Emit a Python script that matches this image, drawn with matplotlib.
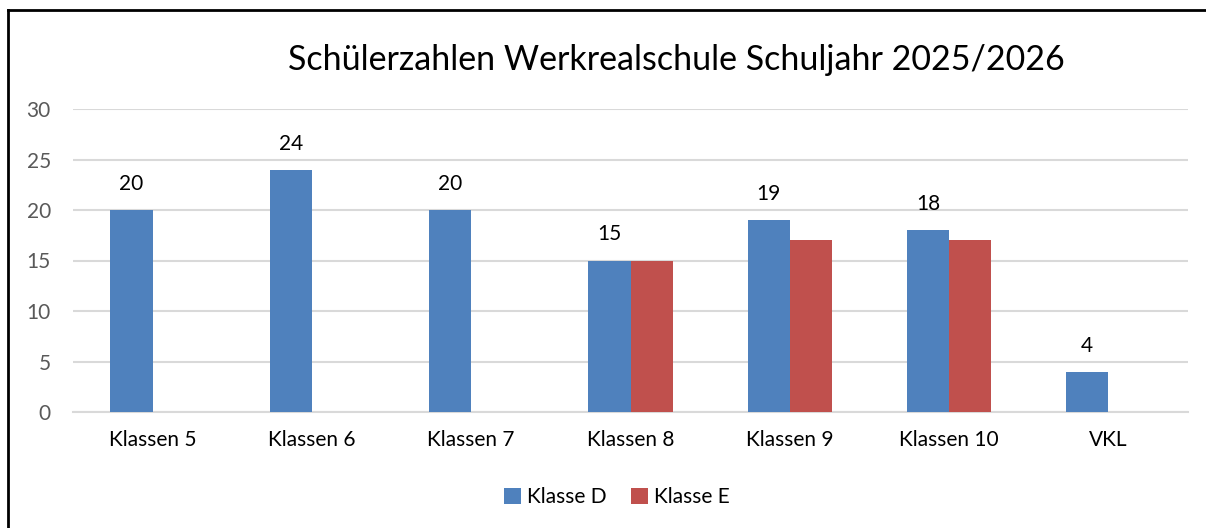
import numpy as np
import matplotlib.pyplot as plt
from matplotlib.lines import Line2D

# Daten
klassen = ['Klassen 5', 'Klassen 6', 'Klassen 7', 'Klassen 8', 'Klassen 9', 'Klassen 10', 'VKL']
klasse_d = [20, 24, 20, 15, 19, 18, 4]
klasse_e = [0, 0, 0, 15, 17, 17, 0]

plt.rcParams['font.family'] = ['Lato', 'DejaVu Sans']

fig = plt.figure(figsize=(12.06, 5.28), dpi=100)
ax = fig.add_axes([73 / 1206, 1 - 412 / 528, (1188 - 73) / 1206, (412 - 109) / 528])

x = np.arange(len(klassen))
w = 0.265
blau = '#4F81BD'
rot = '#C0504D'
ax.bar(x - w / 2, klasse_d, w, color=blau, label='Klasse D', zorder=3)
ax.bar(x + w / 2, klasse_e, w, color=rot, label='Klasse E', zorder=3)

# Werte nur über Klasse D
for xi, v in zip(x, klasse_d):
    ax.annotate(str(v), (xi - w / 2, v), xytext=(0, 26), textcoords='offset pixels',
                ha='center', va='center', fontsize=15, color='black')

ax.set_xlim(-0.5, len(klassen) - 0.5)
ax.set_ylim(0, 30)
ax.set_yticks(range(0, 31, 5))
ax.set_xticks(x)
ax.set_xticklabels(klassen, fontsize=15, color='black')
ax.tick_params(axis='y', labelsize=15, labelcolor='#595959', length=0, pad=16)
ax.tick_params(axis='x', length=0, pad=13)
ax.grid(axis='y', color='#D9D9D9', linewidth=1.5, zorder=0)
for s in ['top', 'right', 'left']:
    ax.spines[s].set_visible(False)
ax.spines['bottom'].set_color('#D9D9D9')
ax.spines['bottom'].set_linewidth(1.5)

fig.text(676 / 1206, 1 - 60 / 528, 'Schülerzahlen Werkrealschule Schuljahr 2025/2026',
         ha='center', va='center', fontsize=24.5, color='black')

fig.legend(loc='center', bbox_to_anchor=(617 / 1206, 1 - 497 / 528), ncol=2, frameon=False,
           fontsize=15, handlelength=0.8, handleheight=0.8, columnspacing=1.2, handletextpad=0.3)

# Rahmen (oben und links)
fig.add_artist(Line2D([8 / 1206, 1], [1 - 10 / 528, 1 - 10 / 528], transform=fig.transFigure,
                      color='black', linewidth=2))
fig.add_artist(Line2D([8 / 1206, 8 / 1206], [0, 1 - 10 / 528], transform=fig.transFigure,
                      color='black', linewidth=2))

fig.savefig('out.png', dpi=100)
